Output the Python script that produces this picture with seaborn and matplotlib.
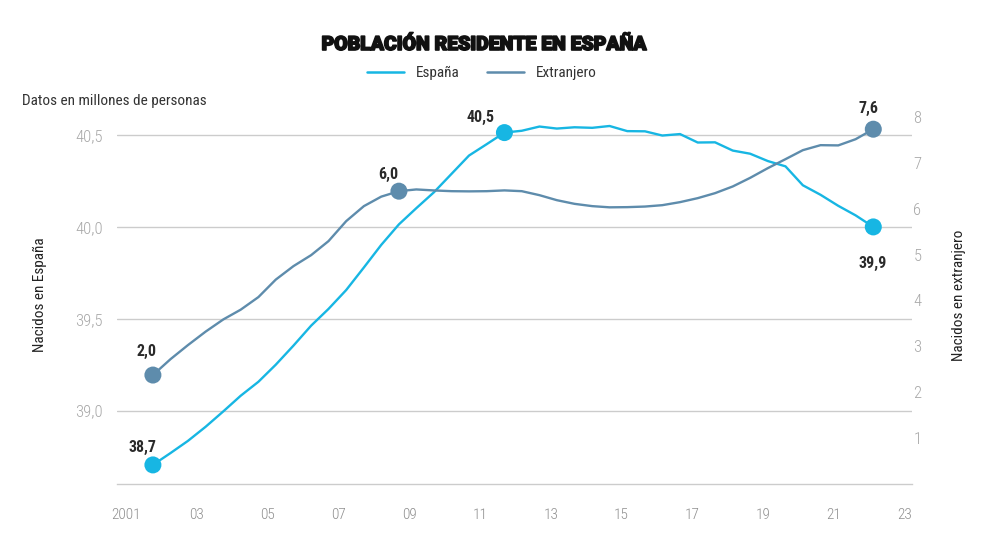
import numpy as np
import pandas as pd
import matplotlib
matplotlib.use("Agg")
import matplotlib.pyplot as plt
import matplotlib.patheffects as pe
from matplotlib import font_manager
from matplotlib.lines import Line2D
import seaborn as sns

# ---------------- data ----------------
periods = [2001.76, 2002.26, 2002.75, 2003.25, 2003.75, 2004.24, 2004.74, 2005.23,
           2005.73, 2006.23, 2006.72, 2007.22, 2007.72, 2008.21, 2008.71, 2009.20,
           2009.70, 2010.20, 2010.69, 2011.19, 2011.69, 2012.18, 2012.68, 2013.17,
           2013.67, 2014.17, 2014.66, 2015.16, 2015.66, 2016.15, 2016.65, 2017.15,
           2017.64, 2018.14, 2018.63, 2019.13, 2019.63, 2020.12, 2020.62, 2021.12,
           2021.61, 2022.11]
espana = [38.704, 38.769, 38.835, 38.912, 38.996, 39.081, 39.157, 39.250,
          39.354, 39.463, 39.554, 39.657, 39.780, 39.903, 40.015, 40.103,
          40.190, 40.291, 40.390, 40.452, 40.515, 40.525, 40.548, 40.537,
          40.544, 40.541, 40.551, 40.523, 40.522, 40.499, 40.507, 40.461,
          40.462, 40.417, 40.400, 40.360, 40.331, 40.228, 40.176, 40.116,
          40.064, 40.001]
extranjero = [2.375, 2.723, 3.028, 3.322, 3.588, 3.800, 4.074, 4.455,
              4.749, 4.989, 5.294, 5.730, 6.057, 6.264, 6.383, 6.421,
              6.399, 6.383, 6.379, 6.383, 6.400, 6.383, 6.296, 6.187,
              6.107, 6.057, 6.031, 6.035, 6.048, 6.078, 6.144, 6.231,
              6.340, 6.486, 6.673, 6.885, 7.081, 7.277, 7.386, 7.381,
              7.516, 7.734]
esp_marks = [0, 20, 41]
esp_labels = ["38,7", "40,5", "39,9"]
ext_marks = [0, 14, 41]
ext_labels = ["2,0", "6,0", "7,6"]
x_ticks = [2001, 2003, 2005, 2007, 2009, 2011, 2013, 2015, 2017, 2019, 2021, 2023]
x_ticklabels = ["2001", "03", "05", "07", "09", "11", "13", "15", "17", "19", "21", "23"]
left_ticks = [39.0, 39.5, 40.0, 40.5]
left_ticklabels = ["39,0", "39,5", "40,0", "40,5"]
right_ticks = [1, 2, 3, 4, 5, 6, 7, 8]
right_ticklabels = ["1", "2", "3", "4", "5", "6", "7", "8"]

df = pd.DataFrame({"x": periods, "España": espana, "Extranjero": extranjero})

C_ESP = "#17b6e3"
C_EXT = "#5e8cac"

sns.set_theme(style="white")
names = {f.name for f in font_manager.fontManager.ttflist}
COND = "Roboto"
for cand in ["Roboto Condensed", "Liberation Sans Narrow", "Roboto"]:
    if cand in names:
        COND = cand
        break
TITLE_FAM = "Roboto"
for cand in ["Roboto Black", "Roboto"]:
    if cand in names:
        TITLE_FAM = cand
        break
plt.rcParams["font.family"] = [COND, "DejaVu Sans"]

W, H = 990, 550
fig = plt.figure(figsize=(9.9, 5.5), dpi=100)
L, R, T, B = 117, 912, 117, 484
ax = fig.add_axes([L / W, 1 - B / H, (R - L) / W, (B - T) / H])
ax2 = ax.twinx()

sns.lineplot(data=df, x="x", y="España", ax=ax, color=C_ESP, lw=1.7, label="España")
sns.lineplot(data=df, x="x", y="Extranjero", ax=ax2, color=C_EXT, lw=1.7, label="Extranjero")
for a in (ax, ax2):
    if a.get_legend() is not None:
        a.get_legend().remove()

# markers
ax.scatter([periods[i] for i in esp_marks], [espana[i] for i in esp_marks],
           s=150, color=C_ESP, zorder=5, edgecolor="none")
ax2.scatter([periods[i] for i in ext_marks], [extranjero[i] for i in ext_marks],
            s=150, color=C_EXT, zorder=5, edgecolor="none")

# scales
x0 = 2001 + (L - 126) / 35.4
x1 = 2001 + (R - 126) / 35.4
ax.set_xlim(x0, x1)
ax.set_ylim(38.6, 40.6)
ax2.set_ylim(0, 8)

ax.set_xticks(x_ticks)
ax.set_xticklabels(x_ticklabels)
ax.set_yticks(left_ticks)
ax.set_yticklabels(left_ticklabels)
ax2.set_yticks(right_ticks)
ax2.set_yticklabels(right_ticklabels)
ax.set_xlabel("")
ax.set_ylabel("")
ax2.set_ylabel("")

ax.grid(axis="y", color="#cccccc", lw=1)
ax.grid(axis="x", visible=False)
ax2.grid(False)
for a in (ax, ax2):
    for s in ["top", "left", "right", "bottom"]:
        a.spines[s].set_visible(False)
ax.spines["bottom"].set_visible(True)
ax.spines["bottom"].set_color("#cccccc")
ax.spines["bottom"].set_linewidth(1)

ax.tick_params(axis="x", direction="inout", length=13, width=1, color="#c8c8c8",
               labelsize=11, labelcolor="#8f8f8f", pad=11)
ax.tick_params(axis="y", length=0, labelsize=12, labelcolor="#a8a8a8", pad=10)
ax2.tick_params(axis="y", length=0, labelsize=12, labelcolor="#a8a8a8", pad=1)
for lab in ax.get_xticklabels() + ax.get_yticklabels() + ax2.get_yticklabels():
    lab.set_fontweight("light")

# annotations
esp_off = [(-10, 17), (-24, 15), (-1, -37)]
ext_off = [(-6, 24), (-11, 17), (-5, 21)]
for i, t, (dx, dy) in zip(esp_marks, esp_labels, esp_off):
    ax.annotate(t, (periods[i], espana[i]), xytext=(dx, dy), textcoords="offset pixels",
                ha="center", va="center", fontsize=11.5, fontweight="bold", color="#2a2a2a")
for i, t, (dx, dy) in zip(ext_marks, ext_labels, ext_off):
    ax2.annotate(t, (periods[i], extranjero[i]), xytext=(dx, dy), textcoords="offset pixels",
                 ha="center", va="center", fontsize=11.5, fontweight="bold", color="#2a2a2a")

# texts
fig.text(484 / W, 1 - 45 / H, "POBLACIÓN RESIDENTE EN ESPAÑA", ha="center", va="center",
         fontsize=14, fontweight="black", color="#111111", family=[TITLE_FAM, "DejaVu Sans"],
         path_effects=[pe.withStroke(linewidth=1.2, foreground="#111111")])
fig.text(22 / W, 1 - 101 / H, "Datos en millones de personas", ha="left", va="center",
         fontsize=11, color="#333333")
fig.text(40 / W, 1 - 295 / H, "Nacidos en España", ha="center", va="center",
         rotation=90, fontsize=11, color="#222222")
fig.text(959 / W, 1 - 295 / H, "Nacidos en extranjero", ha="center", va="center",
         rotation=90, fontsize=11, color="#222222")

handles = [Line2D([], [], color=C_ESP, lw=1.8), Line2D([], [], color=C_EXT, lw=1.8)]
fig.legend(handles, ["España", "Extranjero"], loc="center", bbox_to_anchor=(482 / W, 1 - 73 / H),
           ncol=2, frameon=False, fontsize=11, handlelength=2.4, columnspacing=1.8,
           handletextpad=0.8, labelcolor="#333333")

fig.savefig("out.png", dpi=100, facecolor="white")
